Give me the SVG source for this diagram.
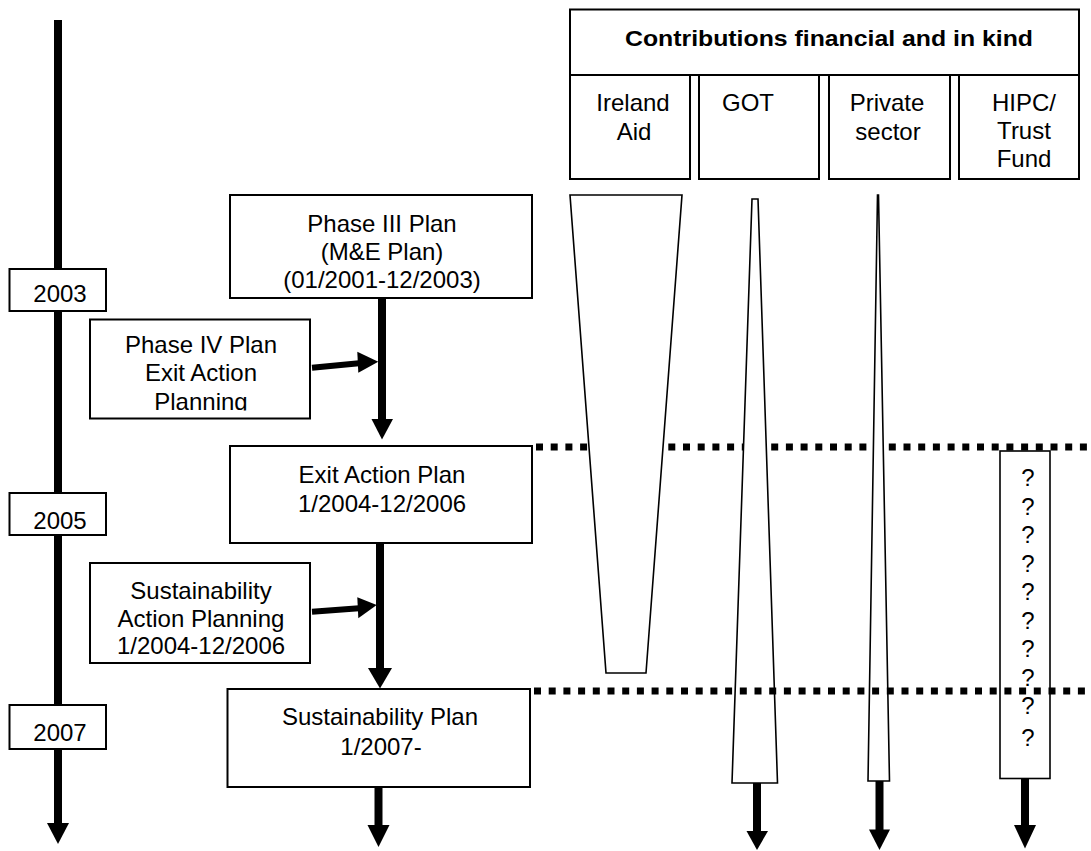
<svg xmlns="http://www.w3.org/2000/svg" width="1091" height="851" viewBox="0 0 1091 851">
<style>
.box{fill:#fff;stroke:#000;stroke-width:2}
.trap{fill:#fff;stroke:#000;stroke-width:1.6;stroke-linejoin:miter}
.t{font-family:"Liberation Sans",Arial,sans-serif;font-size:24px;fill:#000;text-anchor:middle}
.tb{font-family:"Liberation Sans",Arial,sans-serif;font-size:22px;font-weight:bold;fill:#000;text-anchor:middle}
.shaft{stroke:#000;stroke-width:8;fill:none}
.shaft6{stroke:#000;stroke-width:6;fill:none}
.head{fill:#000}
.dash{stroke:#000;stroke-width:7;stroke-dasharray:7 7.7;fill:none}
</style>
<defs>
<clipPath id="clipP4"><rect x="90" y="319" width="220" height="91.5"/></clipPath>
</defs>
<rect width="1091" height="851" fill="#fff"/>

<!-- timeline -->
<g id="timeline">
<line class="shaft" x1="58" y1="20" x2="58" y2="825"/>
<polygon class="head" points="47,823 69,823 58,844"/>
</g>

<!-- upper dashed line (under trapezoids) -->
<line id="divider2004" class="dash" x1="536" y1="447" x2="1091" y2="447"/>

<g id="connectors">
<line class="shaft" x1="382" y1="298" x2="382" y2="421"/>
<polygon class="head" points="371.5,419 393,419 382,439.5"/>
<line class="shaft" x1="380" y1="543" x2="380" y2="670"/>
<polygon class="head" points="368,668 392,668 380,688.5"/>
<line class="shaft" x1="378.5" y1="787" x2="378.5" y2="827"/>
<polygon class="head" points="367.5,825 389.5,825 378.5,847"/>
<line class="shaft6" x1="312" y1="367.7" x2="359" y2="363.3"/>
<polygon class="head" points="357.3,351.7 378.3,361.7 358.3,372.7"/>
<line class="shaft6" x1="312" y1="611.7" x2="359" y2="608.3"/>
<polygon class="head" points="357.3,597.3 376.7,605 358.3,618.3"/>
<line class="shaft" x1="757" y1="782" x2="757" y2="833"/>
<polygon class="head" points="746.5,831 768,831 757,850"/>
<line class="shaft" x1="879.5" y1="780" x2="879.5" y2="831"/>
<polygon class="head" points="869,829.5 890,829.5 879.5,850"/>
<line class="shaft" x1="1025" y1="778" x2="1025" y2="827"/>
<polygon class="head" points="1014,825 1036,825 1025,848.5"/>
</g>

<!-- year markers -->
<g id="y2003"><rect class="box" x="9.5" y="269" width="96.5" height="42"/><text class="t" x="60" y="302">2003</text></g>
<g id="y2005"><rect class="box" x="9.5" y="493" width="96.5" height="42"/><text class="t" x="60" y="529">2005</text></g>
<g id="y2007"><rect class="box" x="9.5" y="705" width="96.5" height="44"/><text class="t" x="60" y="741">2007</text></g>

<!-- plan boxes -->
<g id="phase3">
<rect class="box" x="230" y="195" width="302" height="103"/>
<text class="t" x="382" y="232">Phase III Plan</text>
<text class="t" x="382" y="260">(M&amp;E Plan)</text>
<text class="t" x="382" y="288">(01/2001-12/2003)</text>
</g>
<g id="phase4">
<rect class="box" x="90" y="319.5" width="220" height="99"/>
<g clip-path="url(#clipP4)">
<text class="t" x="201" y="353">Phase IV Plan</text>
<text class="t" x="201" y="381">Exit Action</text>
<text class="t" x="201" y="410">Planning</text>
</g>
</g>
<g id="exitplan">
<rect class="box" x="230" y="446" width="302" height="97"/>
<text class="t" x="382" y="483">Exit Action Plan</text>
<text class="t" x="382" y="512">1/2004-12/2006</text>
</g>
<g id="sustaction">
<rect class="box" x="90" y="563" width="220" height="100"/>
<text class="t" x="201" y="599">Sustainability</text>
<text class="t" x="201" y="627">Action Planning</text>
<text class="t" x="201" y="654">1/2004-12/2006</text>
</g>
<g id="sustplan">
<rect class="box" x="227.5" y="689" width="302.5" height="98"/>
<text class="t" x="380" y="725">Sustainability Plan</text>
<text class="t" x="381" y="755">1/2007-</text>
</g>

<!-- contributions header -->
<g id="contributions">
<rect class="box" x="570" y="9.5" width="509" height="65.5"/>
<text class="tb" x="829" y="46" textLength="408" lengthAdjust="spacingAndGlyphs">Contributions financial and in kind</text>
</g>
<g id="ireland">
<rect class="box" x="570" y="75" width="120" height="104"/>
<text class="t" x="633" y="111">Ireland</text>
<text class="t" x="634" y="140">Aid</text>
</g>
<g id="got">
<rect class="box" x="699" y="75" width="120" height="104"/>
<text class="t" x="748" y="111">GOT</text>
</g>
<g id="private">
<rect class="box" x="829" y="75" width="121" height="104"/>
<text class="t" x="887" y="111">Private</text>
<text class="t" x="888" y="140">sector</text>
</g>
<g id="hipc">
<rect class="box" x="959" y="75" width="120" height="104"/>
<text class="t" x="1024" y="111">HIPC/</text>
<text class="t" x="1024" y="139">Trust</text>
<text class="t" x="1024" y="167">Fund</text>
</g>

<!-- contribution flows -->
<g id="flow-ireland"><polygon class="trap" points="570,195 682,195 646,673 606,673"/></g>
<g id="flow-got"><polygon class="trap" points="752,199 758,199 777.5,783 732,783"/></g>
<g id="flow-private"><polygon class="trap" points="877.5,195 878.5,195 889.5,781 868,781"/></g>
<g id="flow-hipc">
<rect class="trap" x="1000" y="451" width="50" height="327.5"/>
<text class="t" x="1028" y="486">?</text>
<text class="t" x="1028" y="514.5">?</text>
<text class="t" x="1028" y="543">?</text>
<text class="t" x="1028" y="571.5">?</text>
<text class="t" x="1028" y="600">?</text>
<text class="t" x="1028" y="628.5">?</text>
<text class="t" x="1028" y="657">?</text>
<text class="t" x="1028" y="685.5">?</text>
<text class="t" x="1028" y="714">?</text>
<text class="t" x="1028" y="746">?</text>
</g>

<!-- lower dashed line (on top) -->
<line id="divider2007" class="dash" x1="534" y1="691" x2="1091" y2="691"/>
</svg>
